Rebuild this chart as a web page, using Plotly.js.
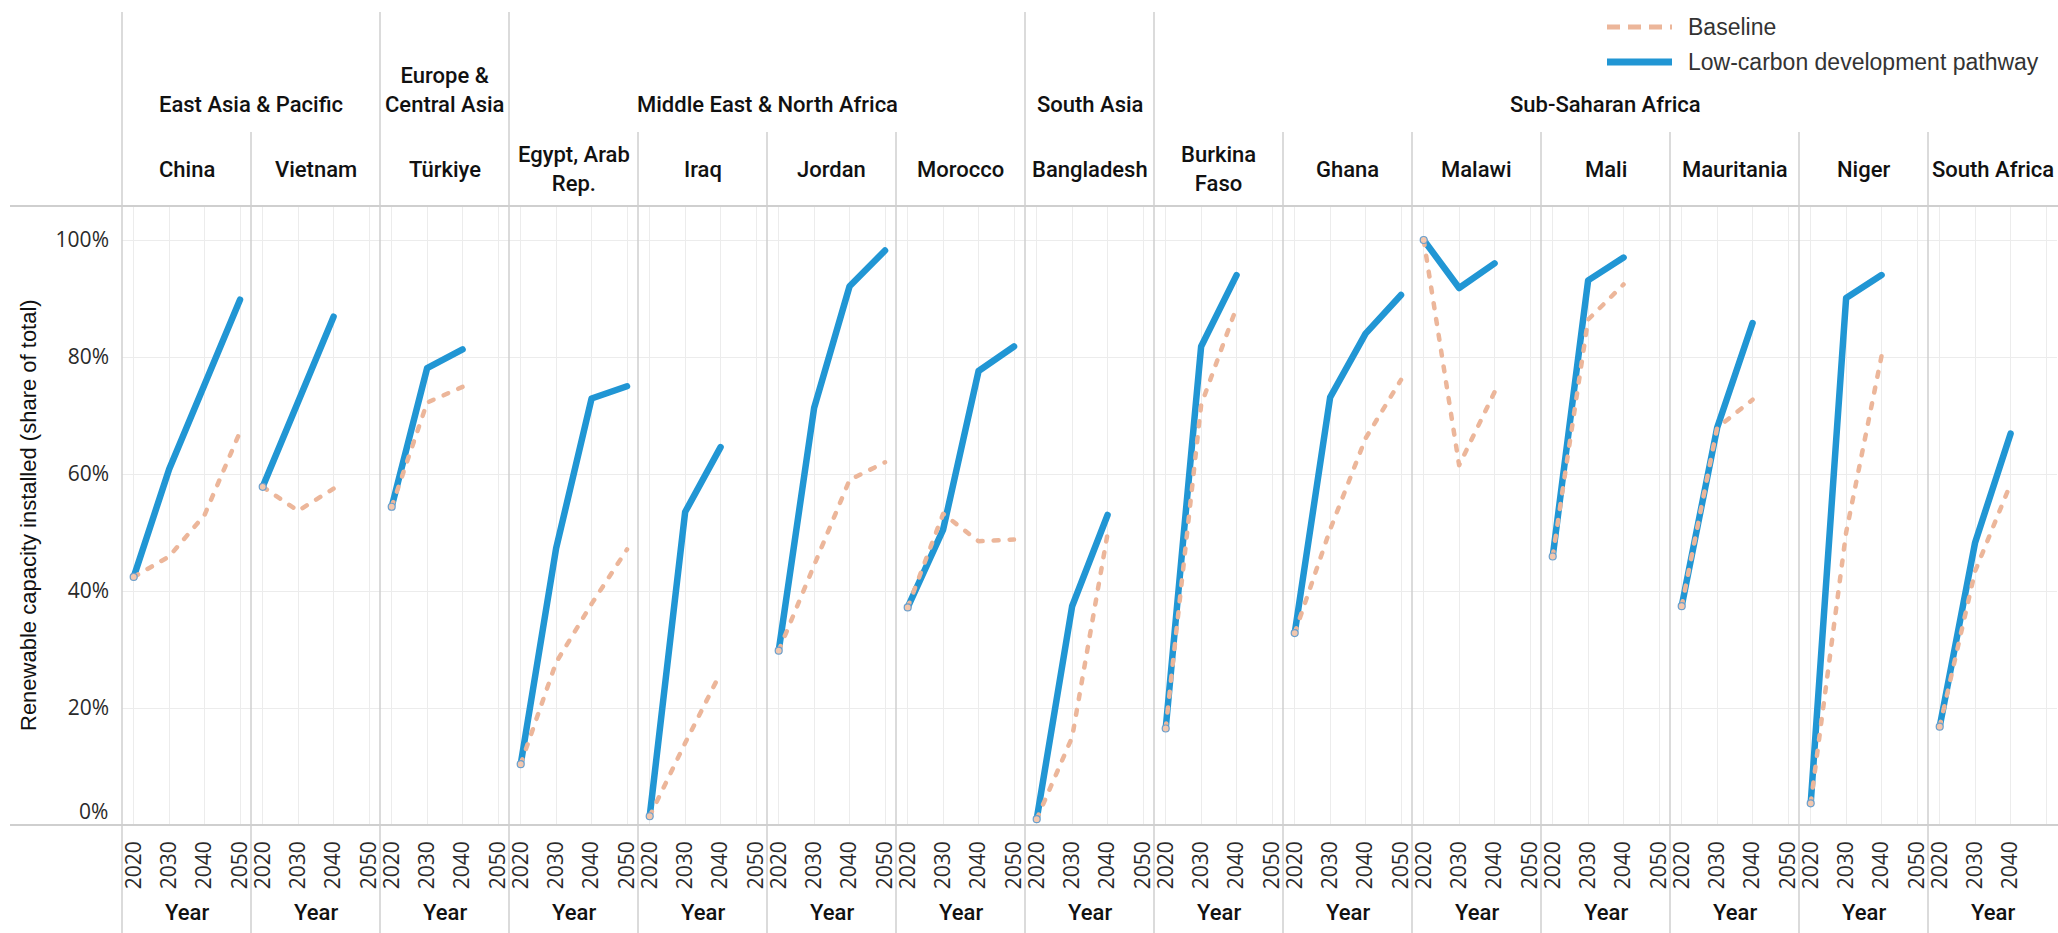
<!DOCTYPE html>
<html>
<head>
<meta charset="utf-8">
<script src="https://cdn.plot.ly/plotly-3.0.1.min.js"></script>
<style>
  html, body { margin: 0; padding: 0; background: #ffffff; }
  #chart { width: 2058px; height: 933px; }
  .scatterlayer .js-line { stroke-linecap: round; stroke-linejoin: round; }
</style>
</head>
<body>
<div id="chart"></div>
<script>
// Renewable capacity installed (share of total) by country, baseline vs low-carbon pathway
const years = [2020, 2030, 2040, 2050];
const yearTicks = ['2020', '2030', '2040', '2050'];

const countries = ['China', 'Vietnam', 'Türkiye', 'Egypt, Arab Rep.', 'Iraq', 'Jordan', 'Morocco',
  'Bangladesh', 'Burkina Faso', 'Ghana', 'Malawi', 'Mali', 'Mauritania', 'Niger', 'South Africa'];
const countryLabels = ['China', 'Vietnam', 'Türkiye', 'Egypt, Arab<br>Rep.', 'Iraq', 'Jordan', 'Morocco',
  'Bangladesh', 'Burkina<br>Faso', 'Ghana', 'Malawi', 'Mali', 'Mauritania', 'Niger', 'South Africa'];

const regionNames = ['East Asia & Pacific', 'Europe & Central Asia', 'Middle East & North Africa',
  'South Asia', 'Sub-Saharan Africa'];
const regionLabels = ['East Asia & Pacific', 'Europe &<br>Central Asia', 'Middle East & North Africa',
  'South Asia', 'Sub-Saharan Africa'];
const countryRegion = [0, 0, 1, 2, 2, 2, 2, 3, 4, 4, 4, 4, 4, 4, 4];

// Share of renewable capacity, percent, per country for 2020, 2030, 2040, 2050
const baselineShare = [
  [42.4, 45.9, 53.0, 67.2],
  [57.8, 53.7, 57.5, null],
  [54.4, 72.2, 74.9, null],
  [10.4, 27.8, 37.8, 47.1],
  [1.5, 14.0, 26.0, null],
  [29.8, 44.5, 59.0, 62.0],
  [37.2, 53.2, 48.5, 48.8],
  [1.0, 15.0, 49.8, null],
  [16.5, 71.8, 88.5, null],
  [32.8, 50.5, 66.1, 76.1],
  [100, 61.5, 74.0, null],
  [45.9, 86.4, 92.4, null],
  [37.4, 67.9, 72.7, null],
  [3.7, 50.0, 80.2, null],
  [16.8, 43.4, 58.3, null]
];
const lowCarbonShare = [
  [42.4, 60.8, 75.3, 89.8],
  [57.8, 72.5, 86.9, null],
  [54.4, 78.1, 81.3, null],
  [10.4, 47.3, 72.9, 75.0],
  [1.5, 53.5, 64.6, null],
  [29.8, 71.3, 92.1, 98.2],
  [37.2, 50.5, 77.6, 81.8],
  [1.0, 37.4, 53.0, null],
  [16.5, 81.8, 94.0, null],
  [32.8, 73.1, 84.0, 90.6],
  [100, 91.8, 96.0, null],
  [45.9, 93.1, 97.0, null],
  [37.4, 67.9, 85.8, null],
  [3.7, 90.1, 94.0, null],
  [16.8, 48.3, 66.9, null]
];

const yTickVals = [0, 20, 40, 60, 80, 100];
const yTickText = ['', '20%', '40%', '60%', '80%', '100%'];

// Page geometry (pixels)
const W = 2058, H = 933;
const PLOT_L = 122, PANEL_W = 129, PLOT_T = 206, PLOT_B = 825;
const HEADER_TOP = 12, COUNTRY_TOP = 132;
const px = v => v / W;
const py = v => 1 - v / H;

const BLUE = '#2196d4';
const PEACH = '#ecb69a';
const SEP = '#cfcfcf';
const GRID = '#ececec';
const TEXT = '#111111';
const HEAD_FONT = {family: 'Roboto, Liberation Sans, Arial, sans-serif', size: 22, color: TEXT, weight: 500};
const TICK_FONT = {family: 'Open Sans, DejaVu Sans, sans-serif', size: 21, color: '#2a2a2a', weight: 500};

const traces = [];
const layout = {
  width: W, height: H,
  margin: {l: 0, r: 0, t: 0, b: 0, pad: 0},
  paper_bgcolor: '#ffffff',
  plot_bgcolor: 'rgba(0,0,0,0)',
  showlegend: false,
  hovermode: false,
  shapes: [],
  annotations: [],
  yaxis: {
    domain: [py(PLOT_B), py(PLOT_T)],
    range: [0, (PLOT_B - PLOT_T) / 5.85],
    anchor: 'x',
    tickvals: yTickVals,
    ticktext: yTickText,
    showgrid: true, gridcolor: GRID, gridwidth: 1,
    zeroline: false, showline: false, ticks: '',
    ticklabelstandoff: 12,
    tickfont: TICK_FONT,
    fixedrange: true
  }
};

countries.forEach((name, i) => {
  const axId = i === 0 ? 'x' : 'x' + (i + 1);
  const axKey = i === 0 ? 'xaxis' : 'xaxis' + (i + 1);
  const left = PLOT_L + i * PANEL_W;
  layout[axKey] = {
    domain: [px(left), px(Math.min(left + PANEL_W, W))],
    anchor: 'y',
    range: [2016.7, 2053.1],
    tickvals: years,
    ticktext: yearTicks,
    tickangle: -90,
    showgrid: true, gridcolor: GRID, gridwidth: 1,
    zeroline: false, showline: false, ticks: '',
    ticklabelstandoff: 11,
    tickfont: TICK_FONT,
    fixedrange: true
  };

  traces.push({
    name: 'Low-carbon development pathway',
    x: years, y: lowCarbonShare[i],
    xaxis: axId, yaxis: 'y',
    mode: 'lines',
    line: {color: BLUE, width: 6.5},
    hoverinfo: 'skip'
  });
  traces.push({
    name: 'Baseline',
    x: years, y: baselineShare[i],
    xaxis: axId, yaxis: 'y',
    mode: 'lines+markers',
    line: {color: PEACH, width: 4.5, dash: '5px,11px'},
    marker: {
      size: 7, color: '#f2c7ae',
      opacity: years.map((_, k) => (k === 0 ? 1 : 0)),
      line: {color: '#6b9fcc', width: 1.2}
    },
    hoverinfo: 'skip'
  });

  // Panel separator: full height at region boundaries, from the country row otherwise
  const regionStart = i === 0 || countryRegion[i] !== countryRegion[i - 1];
  layout.shapes.push({
    type: 'line', xref: 'paper', yref: 'paper', layer: 'above',
    x0: px(left), x1: px(left),
    y0: py(regionStart ? HEADER_TOP : COUNTRY_TOP), y1: py(H),
    line: {color: SEP, width: 1.5}
  });

  // Country header
  layout.annotations.push({
    xref: 'paper', yref: 'paper',
    x: px(left + PANEL_W / 2), y: py(169),
    xanchor: 'center', yanchor: 'middle',
    text: countryLabels[i], showarrow: false,
    font: HEAD_FONT
  });

  // Axis caption under each panel
  layout.annotations.push({
    xref: 'paper', yref: 'paper',
    x: px(left + PANEL_W / 2), y: py(912),
    xanchor: 'center', yanchor: 'middle',
    text: 'Year', showarrow: false,
    font: HEAD_FONT
  });
});

// Region headers spanning their countries
regionNames.forEach((r, ri) => {
  const idx = countryRegion.map((v, k) => (v === ri ? k : -1)).filter(k => k >= 0);
  const x0 = PLOT_L + idx[0] * PANEL_W;
  const x1 = PLOT_L + (idx[idx.length - 1] + 1) * PANEL_W;
  const twoLine = regionLabels[ri].indexOf('<br>') >= 0;
  layout.annotations.push({
    xref: 'paper', yref: 'paper',
    x: px((x0 + x1) / 2), y: py(twoLine ? 90 : 105),
    xanchor: 'center', yanchor: 'middle',
    text: regionLabels[ri], showarrow: false,
    font: HEAD_FONT
  });
});

// Header rule and bottom axis rule
[PLOT_T, PLOT_B].forEach(yy => {
  layout.shapes.push({
    type: 'line', xref: 'paper', yref: 'paper', layer: 'above',
    x0: px(10), x1: 1, y0: py(yy), y1: py(yy),
    line: {color: SEP, width: 2}
  });
});

// Zero label sits just above the bottom rule
layout.annotations.push({
  xref: 'paper', yref: 'paper',
  x: px(PLOT_L - 12), y: py(811),
  xanchor: 'right', yanchor: 'middle',
  text: '0%', showarrow: false,
  font: TICK_FONT
});

// Vertical axis title
layout.annotations.push({
  xref: 'paper', yref: 'paper',
  x: px(28), y: py(515),
  xanchor: 'center', yanchor: 'middle',
  textangle: -90,
  text: 'Renewable capacity installed (share of total)', showarrow: false,
  font: {family: 'Liberation Sans, Arial, sans-serif', size: 22, color: TEXT}
});

// Legend
layout.shapes.push({
  type: 'line', xref: 'paper', yref: 'paper', layer: 'above',
  x0: px(1607), x1: px(1672), y0: py(27), y1: py(27),
  line: {color: PEACH, width: 5, dash: '13px,8px'}
});
layout.shapes.push({
  type: 'line', xref: 'paper', yref: 'paper', layer: 'above',
  x0: px(1607), x1: px(1672), y0: py(62), y1: py(62),
  line: {color: BLUE, width: 7}
});
[['Baseline', 27], ['Low-carbon development pathway', 62]].forEach(([t, yy]) => {
  layout.annotations.push({
    xref: 'paper', yref: 'paper',
    x: px(1686), y: py(yy),
    xanchor: 'left', yanchor: 'middle',
    text: t, showarrow: false,
    font: {family: 'Liberation Sans, Arial, sans-serif', size: 23, color: '#333333'}
  });
});

Plotly.newPlot('chart', traces, layout, {displayModeBar: false, staticPlot: true});
</script>
</body>
</html>
